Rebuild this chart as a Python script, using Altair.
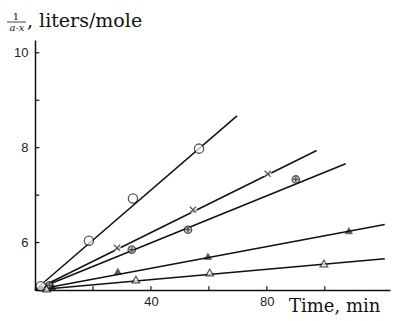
import altair as alt
import pandas as pd

# ---- data ----
series = ["open_circle", "cross", "crossed_circle", "filled_triangle", "open_triangle"]
pt_time = {
    "open_circle": [2, 18.6, 33.8, 56.6],
    "cross": [4, 28.3, 54.5, 80.3],
    "crossed_circle": [5, 33.4, 52.8, 90.0],
    "filled_triangle": [6, 28.6, 59.7, 108.3],
    "open_triangle": [4, 34.8, 60.3, 99.7],
}
pt_value = {
    "open_circle": [5.08, 6.04, 6.93, 7.98],
    "cross": [5.10, 5.89, 6.69, 7.45],
    "crossed_circle": [5.10, 5.85, 6.27, 7.33],
    "filled_triangle": [5.06, 5.39, 5.71, 6.25],
    "open_triangle": [5.03, 5.22, 5.37, 5.56],
}
line_start = (0.0, 5.0)
line_end_time = {"open_circle": 69.7, "cross": 97.2, "crossed_circle": 107.2,
                 "filled_triangle": 120.7, "open_triangle": 120.7}
line_end_value = {"open_circle": 8.67, "cross": 7.94, "crossed_circle": 7.66,
                  "filled_triangle": 6.38, "open_triangle": 5.66}

x_ticks = [20, 40, 60, 80, 100]
x_labels = [40, 80]
y_ticks = [6, 7, 8, 9, 10]
y_labels = [6, 8, 10]
x_domain = [0, 122.5]
y_domain = [5, 10.27]

# ---- tables ----
pts = pd.DataFrame([
    {"s": s, "t": t, "v": v}
    for s in series for t, v in zip(pt_time[s], pt_value[s])
])
lines = pd.DataFrame(
    [{"s": s, "t": line_start[0], "v": line_start[1], "o": 0} for s in series]
    + [{"s": s, "t": line_end_time[s], "v": line_end_value[s], "o": 1} for s in series]
)
xt = pd.DataFrame({"t": x_ticks, "v": y_domain[0], "v2": y_domain[0] + 0.08})
yt = pd.DataFrame({"v": y_ticks, "t": x_domain[0], "t2": x_domain[0] + 1.5})

xs = alt.Scale(domain=x_domain, nice=False, zero=False)
ys = alt.Scale(domain=y_domain, nice=False, zero=False)

X = alt.X("t:Q", scale=xs, axis=alt.Axis(
    values=x_labels, title=None, grid=False, ticks=False, domainColor="#111",
    domainWidth=1.5, labelFont="Liberation Sans", labelFontSize=13, labelColor="#222",
    labelPadding=5, labelFlush=False))
Y = alt.Y("v:Q", scale=ys, axis=alt.Axis(
    values=y_labels, title=None, grid=False, ticks=False, domainColor="#111",
    domainWidth=1.5, labelFont="Liberation Sans", labelFontSize=13, labelColor="#222",
    labelPadding=7, labelFlush=False))

base_l = alt.Chart(lines)
line_layer = base_l.mark_line(color="#111", strokeWidth=1.5).encode(
    x=X, y=Y, detail="s:N", order="o:Q")

base_p = alt.Chart(pts)
def sel(name):
    return base_p.transform_filter(alt.datum.s == name)

open_circ = sel("open_circle").mark_point(
    shape="circle", size=85, filled=True, fill="white", stroke="#111", strokeWidth=1.3
).encode(x="t:Q", y="v:Q")

cross_bg = sel("cross").mark_point(
    shape="circle", size=60, filled=True, fill="white", strokeWidth=0
).encode(x="t:Q", y="v:Q")
cross = sel("cross").mark_point(
    shape="M-1,-1L1,1M-1,1L1,-1", size=38, stroke="#111", strokeWidth=1.3, filled=False
).encode(x="t:Q", y="v:Q")

cc = sel("crossed_circle").mark_point(
    shape="circle", size=55, filled=True, fill="#bbb", stroke="#111", strokeWidth=1.3
).encode(x="t:Q", y="v:Q")
cc_x = sel("crossed_circle").mark_point(
    shape="M-1,0L1,0M0,-1L0,1", size=28, stroke="#111", strokeWidth=1.2, filled=False
).encode(x="t:Q", y="v:Q")

ftri = sel("filled_triangle").mark_point(
    shape="triangle-up", size=50, filled=True, fill="#111", stroke="#111", strokeWidth=0.8
).encode(x="t:Q", y="v:Q")

otri = sel("open_triangle").mark_point(
    shape="triangle-up", size=60, filled=True, fill="white", stroke="#111", strokeWidth=1.2
).encode(x="t:Q", y="v:Q")

xtick = alt.Chart(xt).mark_rule(color="#111", strokeWidth=1.2).encode(
    x="t:Q", y="v:Q", y2="v2:Q")
ytick = alt.Chart(yt).mark_rule(color="#111", strokeWidth=1.2).encode(
    y="v:Q", x="t:Q", x2="t2:Q")

one = pd.DataFrame({"a": [0]})
title_num = alt.Chart(one).mark_text(
    text="1", font="DejaVu Serif", fontSize=10, color="#111", align="center", baseline="alphabetic"
).encode(x=alt.value(-19), y=alt.value(-20))
title_bar = alt.Chart(one).mark_rule(color="#111", strokeWidth=0.8).encode(
    x=alt.value(-28), x2=alt.value(-9), y=alt.value(-18))
title_den = alt.Chart(one).mark_text(
    text="a-x", font="DejaVu Serif", fontSize=10, fontStyle="italic", color="#111",
    align="center", baseline="alphabetic"
).encode(x=alt.value(-18), y=alt.value(-9))
title_txt = alt.Chart(one).mark_text(
    text=", liters/mole", font="DejaVu Serif", fontSize=19, color="#111",
    align="left", baseline="alphabetic"
).encode(x=alt.value(-8), y=alt.value(-13))
xtitle = alt.Chart(one).mark_text(
    text="Time, min", font="DejaVu Serif", fontSize=18, color="#111",
    align="left", baseline="alphabetic"
).encode(x=alt.value(254), y=alt.value(272))

chart = alt.layer(
    line_layer, xtick, ytick, open_circ, cross_bg, cross, cc, cc_x, ftri, otri,
    title_num, title_bar, title_den, title_txt, xtitle
).properties(
    width=355, height=250,
    autosize=alt.AutoSizeParams(type="none"),
    padding={"left": 35, "top": 40, "right": 8, "bottom": 31},
    background="white",
).configure_view(stroke=None)

chart.save("out.html", embed_options={"renderer": "svg", "actions": False})
